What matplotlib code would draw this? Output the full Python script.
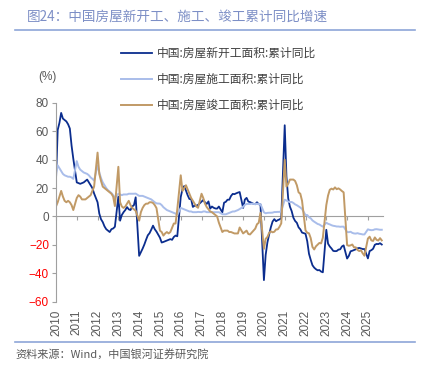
import matplotlib
matplotlib.use("Agg")
import matplotlib.pyplot as plt
import numpy as np

plt.rcParams['font.family'] = ['Noto Sans CJK SC', 'DejaVu Sans']

# monthly cumulative YoY (%), Jan-Feb .. Dec each year, 2010 -> Oct 2025
new_starts = [
    25, 61, 66, 73, 69, 68, 67, 65, 62, 50, 40.7,
    24, 23.5, 23, 23.5, 24, 25, 26, 24, 22, 20, 16.2,
    10, 2, -2, -4, -7, -9, -10, -11, -9, -8.5, -7.3,
    14, -3, 1, 3, 4.5, 6.6, 5, 4.5, 7, 8, 13.5,
    -27.8, -25.2, -22.7, -19.8, -16.4, -13.3, -11.8, -9.3, -6.5, -9.0, -10.7,
    -15, -18.4, -18, -17.5, -17, -16.5, -16, -16.5, -14.5, -13.5, -14.0,
    13.7, 19.2, 21.4, 18.3, 14.9, 12.3, 12.2, 6.7, 7.6, 7.6, 8.1,
    10.4, 11.6, 9.9, 8.8, 10.6, 5.5, 7.0, 6.1, 5.6, 5.5, 7.0,
    2.9, 9.7, 10.3, 11.8, 11.8, 14.4, 15.9, 15.7, 16.3, 16.8, 17.2,
    6.0, 11.9, 13.1, 10.5, 10.1, 9.5, 8.9, 8.6, 10.0, 8.6, 8.5,
    -44.9, -27.2, -18.4, -12.8, -7.6, -3.6, -1.9, -3.4, -2.6, -2.1, -1.2,
    64.3, 28.2, 12.8, 6.9, 3.8, -0.9, -3.2, -4.5, -7.7, -9.1, -11.4,
    -12.2, -17.5, -26.3, -30.6, -34.4, -36.1, -37.2, -38.0, -37.8, -38.9, -39.4,
    -9.4, -19.2, -21.2, -22.6, -24.3, -24.5, -24.4, -23.4, -23.2, -21.2, -20.4,
    -29.7, -27.8, -24.6, -24.2, -23.7, -23.2, -22.5, -22.2, -22.6, -23.0, -23.0,
    -29.6, -24.4, -23.8, -22.8, -20.0, -19.4, -19.5, -18.9, -19.8,
]
under_construction = [
    31, 36, 34, 32, 30, 29, 28.5, 28, 28, 27.5, 26.5,
    39, 35, 33, 32, 31, 30.5, 30, 29, 27.5, 26.5, 25.3,
    36, 31, 27, 24, 22, 20, 18.5, 17.5, 16.5, 15, 13.2,
    16, 15.5, 15, 15.5, 15.5, 15.5, 16, 16, 16, 16, 16.1,
    14.5, 14.5, 14.5, 14, 13.5, 13, 12.5, 12, 11, 10, 9.2,
    9, 8, 6.5, 5.5, 4.5, 4, 3.5, 3, 2.5, 2, 1.3,
    6, 5.5, 5, 4.5, 4, 3.5, 3.5, 3, 3, 3, 3.2,
    3, 3.5, 3.5, 3, 3, 3, 3, 3, 3, 3, 3,
    1.6, 1.5, 1.5, 2, 2.5, 3, 3.5, 3.5, 4, 4.5, 5.2,
    6.8, 8.2, 8.8, 8.8, 8.8, 9.0, 8.8, 8.7, 9.0, 8.7, 8.7,
    2.9, 2.2, 2.5, 2.6, 2.6, 2.7, 3.1, 3.1, 3.2, 3.2, 3.7,
    11.8, 11.2, 10.5, 10.1, 10.2, 9.5, 8.5, 7.9, 7.1, 6.3, 5.2,
    1.0, 1.0, -0.6, -1.3, -2.8, -3.7, -4.5, -5.3, -5.7, -6.5, -7.2,
    -4.4, -5.2, -5.6, -6.2, -6.6, -6.8, -7.1, -7.1, -7.3, -7.2, -7.2,
    -11.0, -11.1, -10.8, -11.6, -12.0, -12.1, -11.8, -12.2, -12.4, -12.7, -12.7,
    -9.1, -9.5, -9.7, -9.6, -9.1, -9.0, -9.2, -9.4, -9.4,
]
completed = [
    7, 10, 14, 18, 14, 11, 10, 11, 10, 8, 4.5,
    13, 15, 14, 12, 12, 12, 13, 14, 15, 18, 21,
    45, 30, 25, 21, 20, 19, 18, 17, 16, 14, 7.3,
    35, 10, 7, 6, 7, 9, 11, 8, 6, 5, 4,
    -3, 3, 6, 8, 9, 9, 10, 10, 9.5, 8, 5.9,
    -10, -11, -13.5, -12, -11, -12, -11, -8, -5, -5, 5,
    29, 18, 20, 22, 19, 16, 13, 11, 9, 7, 6.1,
    16, 13, 9, 6.6, 5, 3.5, 3, 2, 1, 0, -4.4,
    -11, -10, -10, -10, -11, -11, -11.5, -12, -12, -12, -7.8,
    -12, -11, -10, -12.4, -12.7, -11.3, -10, -8.6, -5.5, -4.5, 2.6,
    -22.9, -15.8, -14.5, -11.6, -10.5, -11.2, -10.8, -9.2, -9.1, -7.3, -4.9,
    40, 21, 23, 26, 26, 26, 25, 22, 17, 16, 11,
    -9.8, -11.5, -11.9, -15.3, -21.5, -23.3, -21.1, -19.9, -18.7, -19.0, -15.0,
    8.0, 14.7, 18.8, 19.6, 19.0, 20.5, 19.2, 19.8, 19.0, 17.9, 17.0,
    -20.2, -20.7, -20.4, -19.8, -21.8, -21.8, -23.6, -24.4, -23.9, -26.0, -27.7,
    -15.6, -14.3, -16.9, -17.3, -14.8, -16.5, -17.0, -15.3, -16.9,
]
labels = ["中国:房屋新开工面积:累计同比",
          "中国:房屋施工面积:累计同比",
          "中国:房屋竣工面积:累计同比"]
years = list(range(2010, 2026))
y_ticks = [80, 60, 40, 20, 0, -20, -40, -60]

# x position: year + (month-2)/12, Jan-Feb combined sits on the year tick
months = list(range(2, 13))
t = np.array([y + (m - 2) / 12 for y in years for m in months])[:len(new_starts)]

fig = plt.figure(figsize=(4.24, 3.66), dpi=100)
ax = fig.add_axes([0.132, 0.1762, 0.771, 0.5424])

ax.plot(t, new_starts, color="#0b2d8e", lw=1.3, label=labels[0])
ax.plot(t, under_construction, color="#a9bdea", lw=1.4, label=labels[1])
ax.plot(t, completed, color="#c19a66", lw=1.4, label=labels[2])

ax.set_xlim(2010, 2025.72)
ax.set_ylim(-60, 80)
ax.set_yticks(y_ticks)
ax.set_xticks(years)
ax.set_xticklabels([str(y) for y in years], rotation=90, fontsize=8.5,
                   family=['Liberation Sans', 'DejaVu Sans'], color="#595959")
ax.tick_params(axis='x', length=0, pad=6)
ax.tick_params(axis='y', length=3, color="#a0a0a0", labelsize=8.5, pad=2)
for lbl, v in zip(ax.get_yticklabels(), y_ticks):
    lbl.set_family(['Liberation Sans', 'DejaVu Sans'])
    lbl.set_color("#ff0000" if v < 0 else "#595959")

for s in ["top", "right", "bottom"]:
    ax.spines[s].set_visible(False)
ax.spines["left"].set_color("#a0a0a0")

# zero line with year ticks
zero = ax.secondary_xaxis(60 / 140)
zero.set_xticks(years)
zero.set_xticklabels([])
zero.tick_params(length=3, color="#a0a0a0", direction='out')
zero.spines["bottom"].set_color("#a0a0a0")

fig.text(47 / 424, 1 - 77 / 366, "(%)", fontsize=8.5, color="#595959",
         ha="center", va="center", family=['Liberation Sans', 'DejaVu Sans'])

leg = ax.legend(loc="upper left", bbox_to_anchor=(121 / 424, 1 - 47 / 366),
                bbox_transform=fig.transFigure, frameon=False, fontsize=8.5,
                handlelength=2.6, handletextpad=0.4, labelspacing=1.1,
                borderpad=0, borderaxespad=0)
for txt in leg.get_texts():
    txt.set_color("#404040")

fig.text(27 / 424, 1 - 18 / 366, "图24：中国房屋新开工、施工、竣工累计同比增速",
         fontsize=9.8, color="#7d8fc6", ha="left", va="center")
fig.add_artist(plt.Line2D([15 / 424, 415 / 424], [1 - 30 / 366, 1 - 30 / 366],
                          color="#8ea6d8", lw=1.2, transform=fig.transFigure))
fig.add_artist(plt.Line2D([15 / 424, 415 / 424], [1 - 342 / 366, 1 - 342 / 366],
                          color="#8ea6d8", lw=1.2, transform=fig.transFigure))
fig.text(15 / 424, 1 - 354 / 366, "资料来源：Wind，中国银河证券研究院",
         fontsize=8, color="#595959", ha="left", va="center", style="italic")

fig.savefig("out.png", dpi=100)
